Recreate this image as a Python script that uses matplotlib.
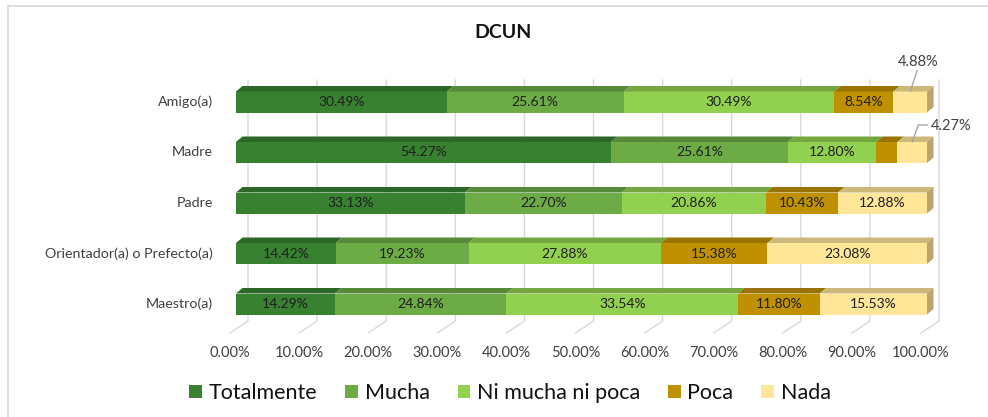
import matplotlib
matplotlib.use("Agg")
import matplotlib.pyplot as plt
from matplotlib.patches import Polygon, Rectangle
import numpy as np

plt.rcParams['font.family'] = ['Lato', 'DejaVu Sans']

categories = ['Maestro(a)', 'Orientador(a) o Prefecto(a)', 'Padre', 'Madre', 'Amigo(a)']
series = ['Totalmente', 'Mucha', 'Ni mucha ni poca', 'Poca', 'Nada']
values = {
    'Totalmente':       [14.29, 14.42, 33.13, 54.27, 30.49],
    'Mucha':            [24.84, 19.23, 22.70, 25.61, 25.61],
    'Ni mucha ni poca': [33.54, 27.88, 20.86, 12.80, 30.49],
    'Poca':             [11.80, 15.38, 10.43, 3.05, 8.54],
    'Nada':             [15.53, 23.08, 12.88, 4.27, 4.88],
}
colors = ['#378131', '#6cab46', '#92d050', '#bf9000', '#ffe699']
xticks = np.arange(0, 101, 10)

W, H = 988, 417
fig = plt.figure(figsize=(W / 100, H / 100), dpi=100)
ax = fig.add_axes([0, 0, 1, 1])
ax.axis('off')

# pixel scale: 6.91 px per percent, 50.5 px per category row
sx, sy = 6.91, 50.5
x0px, y0px = 236, 304
ax.set_xlim(-x0px / sx, (W - x0px) / sx)
ax.set_ylim((y0px - H) / sy, y0px / sy)


def px(n):
    return n / sx


def py(n):
    return n / sy


def shade(c, f):
    r, g, b = matplotlib.colors.to_rgb(c)
    return (r * f, g * f, b * f)


# chart frame (only top/left fall inside the canvas)
fig.patches.append(Rectangle((8 / W, -0.5), 2, 1.5 - 6 / H, transform=fig.transFigure,
                             fill=False, ec='#d9d9d9', lw=1.2))

# back wall gridlines + floor diagonals
y_top_grid = py(y0px - 80)
y_wall_bot = py(y0px - 321)
y_floor = py(y0px - 333)
for t in xticks:
    xb = t + px(12)
    xf = t - px(6)
    ax.plot([xb, xb, xf], [y_top_grid, y_wall_bot, y_floor], color='#d9d9d9', lw=1, zorder=1)
    ax.text(xf, py(y0px - 353), f'{t:.2f}%', ha='center', va='center', fontsize=10.5, color='#404040')

h = py(21)
dx, dy = px(6.5), py(5.5)
for i, cat in enumerate(categories):
    left = 0
    ax.text(-px(23), i, cat, ha='right', va='center', fontsize=10.3, color='#404040')
    for s, c in zip(series, colors):
        v = values[s][i]
        ax.barh(i, v, left=left, height=h, color=c, edgecolor='none', zorder=3)
        yt = i + h / 2
        ax.add_patch(Polygon([(left, yt), (left + v, yt), (left + v + dx, yt + dy), (left + dx, yt + dy)],
                             closed=True, fc=shade(c, 0.8), ec='none', zorder=3))
        cx = left + v / 2
        if v >= 8:
            ax.text(cx, i, f'{v:.2f}%', ha='center', va='center', fontsize=10, color='#1f1f1f', zorder=5)
        elif s == 'Nada':
            # small segment: label outside with a leader line
            if i == len(categories) - 1:
                ax.plot([cx, cx + px(7)], [yt, yt + py(21)], color='#a6a6a6', lw=1, zorder=5)
                ax.text(cx + px(8), yt + py(30), f'{v:.2f}%', ha='center', va='center',
                        fontsize=10.5, color='#404040')
            else:
                ax.plot([cx, cx + px(6), cx + px(15)], [yt, yt + py(17), yt + py(17)],
                        color='#a6a6a6', lw=1, zorder=5)
                ax.text(cx + px(19), yt + py(16), f'{v:.2f}%', ha='left', va='center',
                        fontsize=10.5, color='#404040')
        left += v
    # right end face
    yb = i - h / 2
    ax.add_patch(Polygon([(left, yb), (left, yb + h), (left + dx, yb + h + dy), (left + dx, yb + dy)],
                         closed=True, fc=shade(colors[-1], 0.72), ec='none', zorder=3))

fig.text(503 / W, 1 - 33 / H, 'DCUN', ha='center', va='center', fontsize=14, fontweight='bold',
         color='#111111')

handles = [Rectangle((0, 0), 1, 1, fc=c, ec='none') for c in colors]
fig.legend(handles, series, loc='center', bbox_to_anchor=(510 / W, 1 - 393 / H), ncol=5,
           frameon=False, fontsize=15.5, handlelength=0.6, handleheight=0.6, handletextpad=0.3,
           columnspacing=1.3, labelcolor='#111111')

fig.savefig('out.png', dpi=100)
